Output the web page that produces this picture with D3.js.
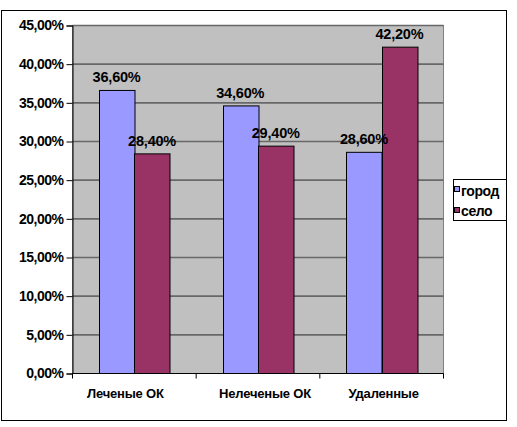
<!DOCTYPE html>
<html><head><meta charset="utf-8">
<script src="https://cdn.jsdelivr.net/npm/d3@7"></script>
<style>
body{margin:0;background:#fff;}
svg text{font-family:"Liberation Sans",Arial,sans-serif;font-weight:bold;fill:#000;}
</style></head><body>
<script>
const categories = ["Леченые ОК", "Нелеченые ОК", "Удаленные"];
const seriesNames = ["город", "село"];
const gorod = [36.6, 34.6, 28.6];
const selo = [28.4, 29.4, 42.2];
const yTicks = [0, 5, 10, 15, 20, 25, 30, 35, 40, 45];
const colors = ["#9999ff", "#993366"];

const W = 517, H = 427;
const svg = d3.select("body").append("svg").attr("width", W).attr("height", H);

// outer frame
svg.append("rect").attr("x", 1.5).attr("y", 10.5).attr("width", 505).attr("height", 410)
  .attr("fill", "#fff").attr("stroke", "#000").attr("stroke-width", 1);

const pl = 72.5, pr = 443.5, pt = 25.5, pb = 373.5;
const x0 = d3.scaleBand().domain(categories).range([pl, pr]).paddingInner(0).paddingOuter(0);
const y = d3.scaleLinear().domain([0, 45]).range([pb, pt]);

// plot area
svg.append("rect").attr("x", pl).attr("y", pt).attr("width", pr - pl).attr("height", pb - pt)
  .attr("fill", "#c0c0c0").attr("stroke", "#808080").attr("stroke-width", 1);

// gridlines
svg.append("g").selectAll("line").data(yTicks.filter(d => d > 0)).join("line")
  .attr("x1", pl).attr("x2", pr).attr("y1", d => y(d)).attr("y2", d => y(d))
  .attr("stroke", "#686868").attr("stroke-width", 1.6);

// bars
const groupW = 71;
const x1 = d3.scaleBand().domain(seriesNames).range([0, groupW]);
const data = categories.map((c, i) => ({c, vals: [gorod[i], selo[i]]}));
const g = svg.append("g");
data.forEach(d => {
  const off = x0(d.c) + (x0.bandwidth() - groupW) / 2;
  d.vals.forEach((v, j) => {
    const bx = off + x1(seriesNames[j]);
    g.append("rect").attr("x", Math.round(bx) + 0.5).attr("y", y(v))
      .attr("width", x1.bandwidth()).attr("height", pb - y(v))
      .attr("fill", colors[j]).attr("stroke", "#000").attr("stroke-width", 1);
  });
});
data.forEach(d => {
  const off = x0(d.c) + (x0.bandwidth() - groupW) / 2;
  d.vals.forEach((v, j) => {
    const bx = off + x1(seriesNames[j]);
    g.append("text").attr("x", bx + x1.bandwidth() / 2).attr("y", y(v) - 8)
      .attr("text-anchor", "middle").attr("font-size", 14.5).attr("letter-spacing", -0.2)
      .text(v.toFixed(2).replace(".", ",") + "%");
  });
});

// y axis
const yAxis = d3.axisLeft(y).tickValues(yTicks).tickSize(6).tickPadding(3)
  .tickFormat(d => d.toFixed(2).replace(".", ",") + "%");
const ya = svg.append("g").attr("transform", `translate(${pl},0)`).call(yAxis);
ya.select(".domain").attr("stroke", "#000");
ya.selectAll(".tick line").attr("stroke", "#000");
ya.selectAll("text").attr("font-size", 14).attr("letter-spacing", -0.5)
  .style("font-family", '"Liberation Sans",Arial,sans-serif').style("font-weight", "bold");

// x axis
const xa = svg.append("g").attr("transform", `translate(0,${pb})`);
xa.append("line").attr("x1", pl).attr("x2", pr).attr("stroke", "#000");
xa.selectAll("line.t").data(categories).join("line").attr("class", "t")
  .attr("x1", d => x0(d)).attr("x2", d => x0(d)).attr("y1", 0).attr("y2", 5).attr("stroke", "#000");
xa.append("line").attr("x1", pr).attr("x2", pr).attr("y1", 0).attr("y2", 5).attr("stroke", "#000");
const labelShift = [-9, 7, 2];
xa.selectAll("text").data(categories).join("text")
  .attr("x", (d, i) => x0(d) + x0.bandwidth() / 2 + labelShift[i]).attr("y", 24)
  .attr("text-anchor", "middle").attr("font-size", 13).attr("letter-spacing", -0.2)
  .text(d => d);

// legend
const lg = svg.append("g");
lg.append("rect").attr("x", 453.5).attr("y", 179.5).attr("width", 53).attr("height", 41)
  .attr("fill", "#fff").attr("stroke", "#000");
seriesNames.forEach((s, i) => {
  lg.append("rect").attr("x", 454.5).attr("y", 186.5 + i * 21).attr("width", 5).attr("height", 5)
    .attr("fill", colors[i]).attr("stroke", "#000");
  lg.append("text").attr("x", 461).attr("y", 196 + i * 20).attr("font-size", 14)
    .attr("letter-spacing", -0.4).text(s);
});
// cover overflow beyond frame and redraw right edge
svg.append("rect").attr("x", 507).attr("y", 0).attr("width", 10).attr("height", H).attr("fill", "#fff");
svg.append("line").attr("x1", 506.5).attr("x2", 506.5).attr("y1", 10.5).attr("y2", 420.5).attr("stroke", "#000");
</script>
</body></html>
